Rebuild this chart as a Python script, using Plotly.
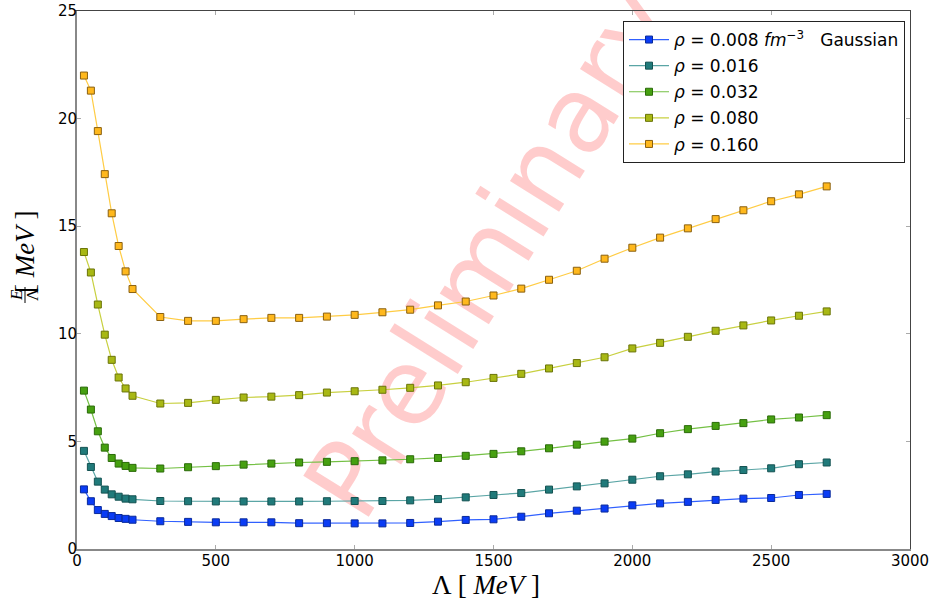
import plotly.graph_objects as go

# ---------------- data ----------------
Lambda = [25, 50, 75, 100, 125, 150, 175, 200, 300, 400, 500, 600, 700, 800, 900,
          1000, 1100, 1200, 1300, 1400, 1500, 1600, 1700, 1800, 1900, 2000, 2100,
          2200, 2300, 2400, 2500, 2600, 2700]

rho_0008 = [2.77, 2.22, 1.81, 1.63, 1.53, 1.44, 1.40, 1.36, 1.29, 1.26, 1.24, 1.24,
            1.24, 1.20, 1.20, 1.19, 1.19, 1.21, 1.27, 1.35, 1.38, 1.50, 1.66, 1.78,
            1.88, 2.03, 2.12, 2.19, 2.28, 2.34, 2.37, 2.51, 2.56]
rho_0016 = [4.56, 3.81, 3.13, 2.76, 2.54, 2.43, 2.34, 2.31, 2.23, 2.22, 2.21, 2.21,
            2.21, 2.21, 2.22, 2.23, 2.23, 2.26, 2.32, 2.40, 2.51, 2.60, 2.76, 2.91,
            3.05, 3.22, 3.38, 3.47, 3.60, 3.67, 3.75, 3.94, 4.02]
rho_0032 = [7.36, 6.48, 5.47, 4.71, 4.23, 3.97, 3.86, 3.77, 3.74, 3.80, 3.85, 3.92,
            3.97, 4.02, 4.05, 4.08, 4.12, 4.17, 4.23, 4.33, 4.42, 4.54, 4.68, 4.85,
            4.99, 5.13, 5.38, 5.57, 5.72, 5.85, 6.02, 6.11, 6.22]
rho_0080 = [13.80, 12.85, 11.36, 9.96, 8.79, 7.97, 7.46, 7.12, 6.76, 6.79, 6.93, 7.04,
            7.08, 7.15, 7.27, 7.33, 7.40, 7.49, 7.60, 7.75, 7.95, 8.14, 8.39, 8.64,
            8.91, 9.32, 9.58, 9.86, 10.14, 10.39, 10.62, 10.84, 11.04]
rho_0160 = [22.00, 21.30, 19.42, 17.42, 15.60, 14.08, 12.90, 12.08, 10.78, 10.60, 10.60,
            10.68, 10.74, 10.74, 10.80, 10.88, 11.00, 11.12, 11.32, 11.50, 11.78, 12.10,
            12.51, 12.93, 13.49, 14.00, 14.47, 14.90, 15.33, 15.74, 16.16, 16.48, 16.85]

series_names = [
    "<i>ρ</i> = 0.008 <i>fm</i><sup>−3</sup>\u00a0\u00a0\u00a0Gaussian",
    "<i>ρ</i> = 0.016",
    "<i>ρ</i> = 0.032",
    "<i>ρ</i> = 0.080",
    "<i>ρ</i> = 0.160",
]
series_values = [rho_0008, rho_0016, rho_0032, rho_0080, rho_0160]

face_colors = ["#0a3cf5", "#207a7a", "#46a010", "#a8b814", "#ffb81c"]
edge_colors = ["#0a2a9a", "#145252", "#2a6a08", "#6a7408", "#8a6010"]
line_colors = ["#3060ff", "#5aa5a5", "#74c044", "#c8d040", "#ffcc44"]

x_ticks = [0, 500, 1000, 1500, 2000, 2500, 3000]
y_ticks = [0, 5, 10, 15, 20, 25]

# ---------------- figure ----------------
fig = go.Figure()

for i, (name, vals, fc, ec, lc) in enumerate(zip(series_names, series_values, face_colors, edge_colors, line_colors)):
    fig.add_trace(go.Scatter(
        x=Lambda, y=vals, name=name, mode="lines+markers", legendgroup=f"g{i}",
        line=dict(color=lc, width=1.2),
        marker=dict(symbol="square", size=7, color=fc, line=dict(color=ec, width=1)),
    ))

# empty trace for the mirrored (top/right) axes
fig.add_trace(go.Scatter(x=[], y=[], xaxis="x2", yaxis="y2", showlegend=False, hoverinfo="skip"))

W, H = 933, 601
ml, mr, mt, mb = 77, 23, 11, 52
pw, ph = W - ml - mr, H - mt - mb


def px2paper(px, py):
    return (px - ml) / pw, (H - mb - py) / ph


tick_font = dict(family="DejaVu Sans", size=15, color="#000000")

fig.update_layout(
    width=W, height=H,
    margin=dict(l=ml, r=mr, t=mt, b=mb, autoexpand=False),
    paper_bgcolor="white", plot_bgcolor="white",
    showlegend=True,
    legend=dict(
        x=px2paper(905, 0)[0], y=px2paper(0, 21)[1], xanchor="right", yanchor="top",
        bgcolor="white", bordercolor="#222222", borderwidth=1,
        font=dict(family="DejaVu Sans", size=17, color="#000000"),
        itemwidth=40, tracegroupgap=1,
    ),
    xaxis=dict(
        range=[0, 3000], tickvals=x_ticks, ticktext=[str(v) for v in x_ticks],
        ticks="inside", ticklen=4, tickcolor="#aaaaaa", tickwidth=1,
        showline=True, linecolor="#888888", linewidth=2, automargin=False,
        showgrid=False, zeroline=False, tickfont=tick_font,
    ),
    yaxis=dict(
        range=[0, 25], tickvals=y_ticks, ticktext=[str(v) for v in y_ticks],
        ticks="inside", ticklen=4, tickcolor="#aaaaaa", tickwidth=1,
        showline=True, linecolor="#888888", linewidth=2, automargin=False,
        showgrid=False, zeroline=False, tickfont=tick_font,
    ),
    xaxis2=dict(
        overlaying="x", side="top", anchor="y", range=[0, 3000], tickvals=x_ticks,
        ticks="inside", ticklen=4, tickcolor="#aaaaaa", showticklabels=False,
        showline=True, linecolor="#444444", linewidth=1, showgrid=False, zeroline=False,
        automargin=False,
    ),
    yaxis2=dict(
        overlaying="y", side="right", anchor="x", range=[0, 25], tickvals=y_ticks,
        ticks="inside", ticklen=4, tickcolor="#aaaaaa", showticklabels=False,
        showline=True, linecolor="#444444", linewidth=1, showgrid=False, zeroline=False,
        automargin=False,
    ),
)

# pull tick labels closer to the axes (if supported)
try:
    fig.layout.xaxis.ticklabelstandoff = -3
except Exception:
    pass
try:
    fig.layout.yaxis.ticklabelstandoff = -5
except Exception:
    pass

# watermark behind the data
wcx, wcy = 484, 248
x0, y0 = px2paper(wcx - 100, wcy + 160)
x1, y1 = px2paper(wcx + 100, wcy - 160)
fig.add_shape(
    type="line", xref="paper", yref="paper", x0=x0, y0=y0, x1=x1, y1=y1,
    line=dict(width=0, color="rgba(0,0,0,0)"), layer="below",
    label=dict(text="Preliminary", textangle=-58, textposition="middle",
               yanchor="middle", xanchor="center",
               font=dict(family="DejaVu Sans", size=106, color="rgba(255,0,0,0.2)")),
)

serif = "Liberation Serif"
# x axis title
ax, ay = px2paper(486, 585)
fig.add_annotation(xref="paper", yref="paper", x=ax, y=ay, showarrow=False,
                   text="Λ [ <i>MeV</i> ]", font=dict(family=serif, size=27, color="#000"),
                   xanchor="center", yanchor="middle")
# y axis title: [ MeV ] part
bx, by = px2paper(25, 252)
fig.add_annotation(xref="paper", yref="paper", x=bx, y=by, showarrow=False,
                   text="[ <i>MeV</i> ]", textangle=-90,
                   font=dict(family=serif, size=27, color="#000"),
                   xanchor="center", yanchor="middle")
# y axis title: fraction E / Λ
ex, ey = px2paper(17, 295)
fig.add_annotation(xref="paper", yref="paper", x=ex, y=ey, showarrow=False,
                   text="<i>E</i>", textangle=-90,
                   font=dict(family=serif, size=17, color="#000"),
                   xanchor="center", yanchor="middle")
gx, gy = px2paper(33, 295)
fig.add_annotation(xref="paper", yref="paper", x=gx, y=gy, showarrow=False,
                   text="Λ", textangle=-90,
                   font=dict(family=serif, size=17, color="#000"),
                   xanchor="center", yanchor="middle")
lx0, ly0 = px2paper(25, 287)
lx1, ly1 = px2paper(25, 303)
fig.add_shape(type="line", xref="paper", yref="paper", x0=lx0, y0=ly0, x1=lx1, y1=ly1,
              line=dict(color="#000", width=1))

fig.write_html(
    "out.html",
    config={"displayModeBar": False},
    post_script="document.body.style.margin='0';document.body.style.padding='0';"
                "document.documentElement.style.overflow='hidden';",
)
